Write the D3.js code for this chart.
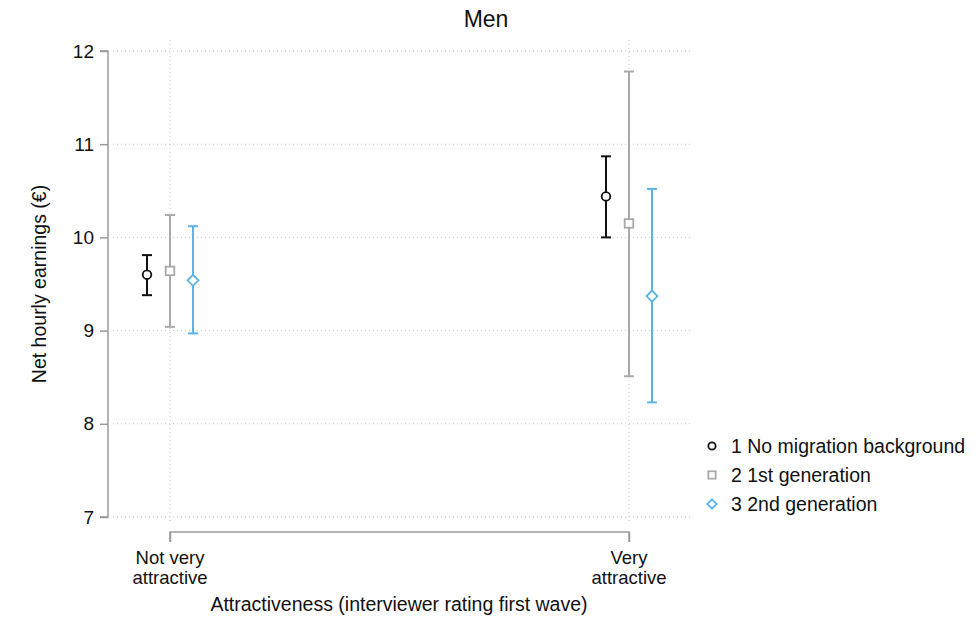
<!DOCTYPE html>
<html><head><meta charset="utf-8">
<script src="https://cdn.jsdelivr.net/npm/d3@7"></script>
<style>body{margin:0;background:#fff}svg{display:block}text{font-family:"Liberation Sans",Arial,sans-serif;fill:#111}</style>
</head><body><svg id="c" width="980" height="622"></svg>
<script>
const categories = ["Not very attractive", "Very attractive"];
const categoryLines = [["Not very","attractive"],["Very","attractive"]];
const seriesNames = ["1 No migration background", "2 1st generation", "3 2nd generation"];
const estimates = [[9.60, 10.44],[9.64, 10.15],[9.54, 9.37]];
const lower = [[9.38, 10.00],[9.04, 8.51],[8.97, 8.23]];
const upper = [[9.81, 10.87],[10.24, 11.78],[10.12, 10.52]];
const yTicks = [7, 8, 9, 10, 11, 12];
const colors = ["#111111", "#a9a9a9", "#5ab4e6"];
const shapes = ["circle", "square", "diamond"];

const svg = d3.select("#c");
const y = d3.scaleLinear().domain([7, 12]).range([517, 51]);
const x = d3.scalePoint().domain(categories).range([170, 629]);
const off = d3.scalePoint().domain(seriesNames).range([-23, 23]);

// grid
const grid = svg.append("g").attr("stroke", "#c8c8c8").attr("stroke-dasharray", "1,3").attr("stroke-width", 1);
yTicks.forEach(t => grid.append("line").attr("x1", 113).attr("x2", 693).attr("y1", y(t)).attr("y2", y(t)));
categories.forEach(c => grid.append("line").attr("x1", x(c)).attr("x2", x(c)).attr("y1", 40).attr("y2", 524));

// y axis
const ya = svg.append("g").attr("transform", "translate(108,0)")
  .call(d3.axisLeft(y).tickValues(yTicks).tickSize(8).tickPadding(6).tickFormat(d3.format("d")));
ya.select(".domain").attr("stroke", "#9a9a9a").attr("stroke-width", 1.5).attr("d", `M-8,${y(12)}H0V${y(7)}H-8`);
ya.selectAll(".tick line").attr("stroke", "#9a9a9a").attr("stroke-width", 1.5);
ya.selectAll(".tick text").style("font-size", "19px").attr("fill", "#111").attr("font-family", "Liberation Sans, Arial");

// x axis
const xa = svg.append("g").attr("transform", "translate(0,532)")
  .call(d3.axisBottom(x).tickSize(10).tickFormat(""));
xa.select(".domain").attr("stroke", "#9a9a9a").attr("stroke-width", 1.5).attr("d", `M${x(categories[0])},10V0H${x(categories[1])}V10`);
xa.selectAll(".tick line").attr("stroke", "#9a9a9a").attr("stroke-width", 1.5);
categories.forEach((c, i) => {
  categoryLines[i].forEach((l, j) => svg.append("text").attr("text-anchor", "middle").style("font-size", "18.5px")
    .attr("x", x(c)).attr("y", 564 + j * 20).text(l));
});

// titles
svg.append("text").attr("x", 486).attr("y", 27).attr("text-anchor", "middle").style("font-size", "23px").text("Men");
svg.append("text").attr("x", 399).attr("y", 611).attr("text-anchor", "middle").style("font-size", "19.5px").text("Attractiveness (interviewer rating first wave)");
svg.append("text").attr("transform", "translate(46,284) rotate(-90)").attr("text-anchor", "middle").style("font-size", "19.5px").text("Net hourly earnings (€)");

function marker(g, shape, color, cx, cy, s) {
  if (shape === "circle") g.append("circle").attr("cx", cx).attr("cy", cy).attr("r", 4.3*s).attr("fill", "#fff").attr("stroke", color).attr("stroke-width", 1.8);
  else if (shape === "square") g.append("rect").attr("x", cx - 4.3*s).attr("y", cy - 4.3*s).attr("width", 8.6*s).attr("height", 8.6*s).attr("fill", "#fff").attr("stroke", color).attr("stroke-width", 1.8);
  else g.append("path").attr("d", `M${cx},${cy-5.5*s}L${cx+5.5*s},${cy}L${cx},${cy+5.5*s}L${cx-5.5*s},${cy}Z`).attr("fill", "#fff").attr("stroke", color).attr("stroke-width", 1.8);
}

// series
seriesNames.forEach((s, si) => {
  const g = svg.append("g");
  categories.forEach((c, ci) => {
    const cx = x(c) + off(s);
    g.append("line").attr("x1", cx).attr("x2", cx).attr("y1", y(lower[si][ci])).attr("y2", y(upper[si][ci])).attr("stroke", colors[si]).attr("stroke-width", 2);
    [lower[si][ci], upper[si][ci]].forEach(v => g.append("line").attr("x1", cx - 5).attr("x2", cx + 5).attr("y1", y(v)).attr("y2", y(v)).attr("stroke", colors[si]).attr("stroke-width", 2));
    marker(g, shapes[si], colors[si], cx, y(estimates[si][ci]), 1);
  });
});

// legend
seriesNames.forEach((s, i) => {
  const ly = 446 + i * 29;
  marker(svg, shapes[i], colors[i], 712, ly, 0.85);
  svg.append("text").attr("x", 731).attr("y", ly + 6.5).style("font-size", "19.5px").text(s);
});
</script></body></html>
